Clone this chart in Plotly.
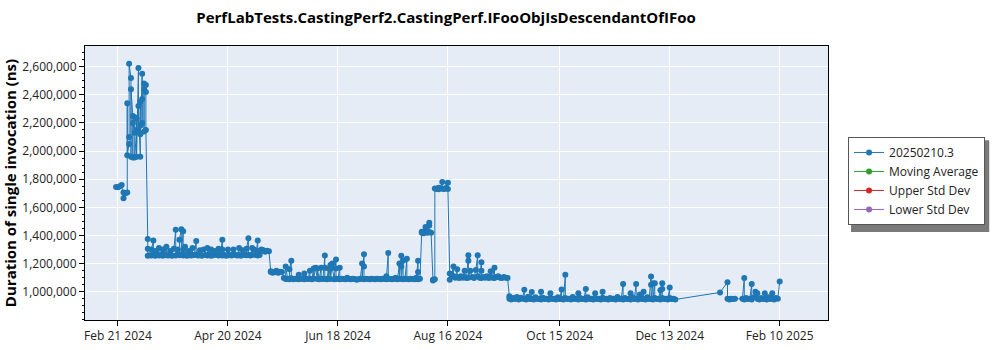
import plotly.graph_objects as go

# ---- data (dates, duration in ns) ----
p1_dates = ["2024-02-20", "2024-02-21", "2024-02-22", "2024-02-23", "2024-02-24", "2024-02-24",
            "2024-02-25", "2024-02-26", "2024-02-26", "2024-02-26", "2024-02-27", "2024-02-27",
            "2024-02-27", "2024-02-28", "2024-02-28", "2024-02-28", "2024-02-29", "2024-02-29",
            "2024-02-29", "2024-03-01", "2024-03-01", "2024-03-01", "2024-03-02", "2024-03-02",
            "2024-03-02", "2024-03-03", "2024-03-03", "2024-03-03", "2024-03-04", "2024-03-04",
            "2024-03-04", "2024-03-04", "2024-03-05", "2024-03-05", "2024-03-05", "2024-03-06",
            "2024-03-06", "2024-03-06", "2024-03-07", "2024-03-07", "2024-03-07"]
p1_vals = [1745000, 1742000, 1750000, 1758000, 1665000, 1705000,
           1700000, 1705000, 2340000, 1970000, 2050000, 2100000,
           2620000, 2520000, 1960000, 2440000, 2250000, 1955000,
           2200000, 2130000, 2240000, 1955000, 2150000, 2230000,
           1960000, 2590000, 2140000, 2320000, 1960000, 2180000,
           2350000, 2120000, 2550000, 2200000, 2370000, 2480000,
           2140000, 2440000, 2420000, 2470000, 2150000]

p2_dates = ["2024-03-08", "2024-03-08", "2024-03-08", "2024-03-09", "2024-03-10", "2024-03-10",
            "2024-03-11", "2024-03-11", "2024-03-12", "2024-03-12", "2024-03-13", "2024-03-14",
            "2024-03-14", "2024-03-15", "2024-03-16", "2024-03-16", "2024-03-17", "2024-03-18",
            "2024-03-18", "2024-03-19", "2024-03-20", "2024-03-20", "2024-03-21", "2024-03-22",
            "2024-03-23", "2024-03-23", "2024-03-24", "2024-03-24", "2024-03-25", "2024-03-25",
            "2024-03-26", "2024-03-26", "2024-03-27", "2024-03-27", "2024-03-27", "2024-03-28",
            "2024-03-28", "2024-03-29", "2024-03-30", "2024-03-30", "2024-03-31", "2024-04-01",
            "2024-04-01", "2024-04-02", "2024-04-03", "2024-04-03", "2024-04-04", "2024-04-05",
            "2024-04-05", "2024-04-06", "2024-04-07", "2024-04-08", "2024-04-09", "2024-04-09",
            "2024-04-10", "2024-04-11", "2024-04-11", "2024-04-12", "2024-04-13", "2024-04-14",
            "2024-04-15", "2024-04-15", "2024-04-16", "2024-04-17", "2024-04-17", "2024-04-17",
            "2024-04-18", "2024-04-19", "2024-04-20", "2024-04-20", "2024-04-21", "2024-04-22",
            "2024-04-23", "2024-04-23", "2024-04-24", "2024-04-25", "2024-04-26", "2024-04-26",
            "2024-04-27", "2024-04-28", "2024-04-29", "2024-04-30", "2024-04-30", "2024-05-01",
            "2024-05-01", "2024-05-02", "2024-05-03", "2024-05-03", "2024-05-04", "2024-05-05",
            "2024-05-06", "2024-05-06", "2024-05-06", "2024-05-07", "2024-05-08", "2024-05-09",
            "2024-05-09", "2024-05-10", "2024-05-11", "2024-05-12"]
p2_vals = [1375000, 1305000, 1255000, 1260000, 1258000, 1300000,
           1365000, 1262000, 1255000, 1290000, 1270000, 1310000,
           1258000, 1262000, 1300000, 1256000, 1265000, 1320000,
           1260000, 1258000, 1290000, 1262000, 1256000, 1305000,
           1440000, 1258000, 1300000, 1262000, 1260000, 1370000,
           1445000, 1265000, 1430000, 1300000, 1258000, 1320000,
           1262000, 1256000, 1290000, 1262000, 1258000, 1310000,
           1260000, 1262000, 1360000, 1265000, 1258000, 1295000,
           1262000, 1256000, 1300000, 1262000, 1258000, 1310000,
           1262000, 1300000, 1256000, 1260000, 1290000, 1262000,
           1258000, 1305000, 1262000, 1370000, 1300000, 1258000,
           1262000, 1256000, 1300000, 1260000, 1262000, 1258000,
           1265000, 1300000, 1262000, 1258000, 1310000, 1262000,
           1256000, 1295000, 1262000, 1260000, 1305000, 1380000,
           1262000, 1258000, 1310000, 1262000, 1300000, 1262000,
           1365000, 1290000, 1258000, 1262000, 1300000, 1290000,
           1295000, 1285000, 1292000, 1288000]

p3_dates = ["2024-05-13", "2024-05-13", "2024-05-14", "2024-05-15", "2024-05-16", "2024-05-16",
            "2024-05-17", "2024-05-18", "2024-05-19", "2024-05-20", "2024-05-21", "2024-05-21",
            "2024-05-22", "2024-05-23", "2024-05-23", "2024-05-24", "2024-05-24", "2024-05-25",
            "2024-05-26", "2024-05-27", "2024-05-28", "2024-05-28", "2024-05-29", "2024-05-30",
            "2024-05-31", "2024-05-31", "2024-06-01", "2024-06-02", "2024-06-03", "2024-06-03",
            "2024-06-04", "2024-06-05", "2024-06-05", "2024-06-06", "2024-06-07", "2024-06-07",
            "2024-06-08", "2024-06-09", "2024-06-09", "2024-06-10", "2024-06-11", "2024-06-11",
            "2024-06-11", "2024-06-12", "2024-06-13", "2024-06-13", "2024-06-14", "2024-06-14",
            "2024-06-15", "2024-06-15", "2024-06-16", "2024-06-17", "2024-06-17", "2024-06-17",
            "2024-06-18", "2024-06-19", "2024-06-19", "2024-06-20", "2024-06-21", "2024-06-22",
            "2024-06-23", "2024-06-23", "2024-06-24", "2024-06-25", "2024-06-26", "2024-06-27",
            "2024-06-28", "2024-06-29", "2024-06-30", "2024-07-01", "2024-07-01", "2024-07-02",
            "2024-07-02", "2024-07-02", "2024-07-03", "2024-07-04", "2024-07-05", "2024-07-06",
            "2024-07-07", "2024-07-08", "2024-07-09", "2024-07-10", "2024-07-11", "2024-07-12",
            "2024-07-13", "2024-07-14", "2024-07-14", "2024-07-15", "2024-07-15", "2024-07-16",
            "2024-07-17", "2024-07-18", "2024-07-19", "2024-07-19", "2024-07-20", "2024-07-21",
            "2024-07-21", "2024-07-22", "2024-07-22", "2024-07-22", "2024-07-23", "2024-07-23",
            "2024-07-24", "2024-07-25", "2024-07-25", "2024-07-26", "2024-07-27", "2024-07-28",
            "2024-07-29", "2024-07-30", "2024-07-30", "2024-07-31", "2024-07-31", "2024-07-31",
            "2024-08-01", "2024-08-02", "2024-08-02", "2024-08-03", "2024-08-04", "2024-08-04",
            "2024-08-05", "2024-08-06", "2024-08-06", "2024-08-06", "2024-08-07", "2024-08-08",
            "2024-08-08", "2024-08-09", "2024-08-09", "2024-08-10", "2024-08-11", "2024-08-11",
            "2024-08-12", "2024-08-13", "2024-08-13", "2024-08-14", "2024-08-15", "2024-08-16",
            "2024-08-16"]
p3_vals = [1145000, 1140000, 1135000, 1140000, 1150000, 1138000,
           1135000, 1142000, 1140000, 1097000, 1090000, 1180000,
           1092000, 1088000, 1160000, 1220000, 1095000, 1088000,
           1092000, 1090000, 1088000, 1120000, 1092000, 1090000,
           1130000, 1088000, 1092000, 1090000, 1150000, 1092000,
           1088000, 1165000, 1092000, 1170000, 1090000, 1165000,
           1088000, 1170000, 1092000, 1090000, 1257000, 1170000,
           1092000, 1088000, 1165000, 1092000, 1190000, 1090000,
           1200000, 1170000, 1088000, 1230000, 1165000, 1092000,
           1090000, 1170000, 1088000, 1092000, 1090000, 1088000,
           1092000, 1100000, 1090000, 1088000, 1092000, 1090000,
           1085000, 1088000, 1092000, 1200000, 1090000, 1267000,
           1180000, 1088000, 1092000, 1090000, 1088000, 1092000,
           1090000, 1088000, 1092000, 1090000, 1088000, 1092000,
           1090000, 1110000, 1088000, 1275000, 1092000, 1090000,
           1088000, 1092000, 1100000, 1090000, 1088000, 1200000,
           1092000, 1255000, 1180000, 1090000, 1220000, 1088000,
           1092000, 1235000, 1090000, 1088000, 1092000, 1090000,
           1088000, 1100000, 1092000, 1220000, 1140000, 1088000,
           1092000, 1427000, 1420000, 1415000, 1430000, 1460000,
           1420000, 1490000, 1470000, 1425000, 1420000, 1085000,
           1080000, 1088000, 1734000, 1730000, 1740000, 1728000,
           1735000, 1780000, 1732000, 1730000, 1738000, 1775000,
           1730000]

p4_dates = ["2024-08-17", "2024-08-17", "2024-08-18", "2024-08-19", "2024-08-19", "2024-08-20",
            "2024-08-21", "2024-08-21", "2024-08-22", "2024-08-23", "2024-08-24", "2024-08-25",
            "2024-08-25", "2024-08-26", "2024-08-27", "2024-08-27", "2024-08-27", "2024-08-28",
            "2024-08-29", "2024-08-30", "2024-08-31", "2024-09-01", "2024-09-01", "2024-09-02",
            "2024-09-03", "2024-09-03", "2024-09-03", "2024-09-04", "2024-09-05", "2024-09-06",
            "2024-09-07", "2024-09-08", "2024-09-08", "2024-09-09", "2024-09-10", "2024-09-10",
            "2024-09-11", "2024-09-12", "2024-09-13", "2024-09-14", "2024-09-15", "2024-09-16",
            "2024-09-17"]
p4_vals = [1130000, 1085000, 1120000, 1180000, 1110000, 1100000,
           1160000, 1105000, 1098000, 1110000, 1100000, 1150000,
           1105000, 1098000, 1260000, 1220000, 1100000, 1150000,
           1105000, 1098000, 1155000, 1260000, 1110000, 1100000,
           1210000, 1150000, 1098000, 1105000, 1100000, 1110000,
           1098000, 1145000, 1105000, 1100000, 1170000, 1098000,
           1105000, 1110000, 1100000, 1098000, 1105000, 1100000,
           1098000]

p5_dates = ["2024-09-18", "2024-09-18", "2024-09-19", "2024-09-20", "2024-09-21", "2024-09-22",
            "2024-09-23", "2024-09-24", "2024-09-25", "2024-09-26", "2024-09-26", "2024-09-27",
            "2024-09-28", "2024-09-29", "2024-09-30", "2024-09-30", "2024-10-01", "2024-10-02",
            "2024-10-03", "2024-10-04", "2024-10-05", "2024-10-05", "2024-10-06", "2024-10-07",
            "2024-10-08", "2024-10-09", "2024-10-10", "2024-10-10", "2024-10-11", "2024-10-12",
            "2024-10-13", "2024-10-14", "2024-10-15", "2024-10-16", "2024-10-16", "2024-10-17",
            "2024-10-18", "2024-10-18", "2024-10-19", "2024-10-20", "2024-10-21", "2024-10-22",
            "2024-10-23", "2024-10-24", "2024-10-25", "2024-10-25", "2024-10-26", "2024-10-27",
            "2024-10-28", "2024-10-29", "2024-10-29", "2024-10-30", "2024-10-31", "2024-11-01",
            "2024-11-02", "2024-11-03", "2024-11-03", "2024-11-04", "2024-11-05", "2024-11-06",
            "2024-11-07", "2024-11-07", "2024-11-08", "2024-11-09", "2024-11-10", "2024-11-11",
            "2024-11-12", "2024-11-13", "2024-11-14", "2024-11-15", "2024-11-16", "2024-11-17",
            "2024-11-18", "2024-11-18", "2024-11-19", "2024-11-20", "2024-11-21", "2024-11-22",
            "2024-11-22", "2024-11-23", "2024-11-24", "2024-11-25", "2024-11-25", "2024-11-26",
            "2024-11-27", "2024-11-27", "2024-11-28", "2024-11-29", "2024-11-29", "2024-11-30",
            "2024-12-01", "2024-12-02", "2024-12-03", "2024-12-03", "2024-12-03", "2024-12-04",
            "2024-12-04", "2024-12-05", "2024-12-05", "2024-12-06", "2024-12-07", "2024-12-08",
            "2024-12-08", "2024-12-09", "2024-12-09", "2024-12-09", "2024-12-10", "2024-12-11",
            "2024-12-12", "2024-12-13", "2024-12-13", "2024-12-14", "2024-12-15", "2024-12-16"]
p5_vals = [967000, 950000, 945000, 955000, 948000, 962000,
           945000, 958000, 950000, 1014000, 950000, 945000,
           965000, 948000, 998000, 950000, 945000, 960000,
           948000, 950000, 1000000, 945000, 958000, 948000,
           950000, 945000, 990000, 955000, 948000, 950000,
           945000, 960000, 948000, 1016000, 950000, 945000,
           1120000, 955000, 948000, 950000, 945000, 962000,
           948000, 950000, 990000, 945000, 955000, 948000,
           950000, 1020000, 945000, 960000, 948000, 950000,
           945000, 990000, 955000, 948000, 950000, 945000,
           1000000, 958000, 948000, 950000, 945000, 955000,
           948000, 950000, 945000, 962000, 948000, 950000,
           1055000, 945000, 955000, 948000, 950000, 990000,
           945000, 960000, 948000, 1055000, 950000, 945000,
           980000, 955000, 948000, 1000000, 950000, 945000,
           960000, 948000, 1108000, 1050000, 950000, 1060000,
           945000, 1060000, 955000, 948000, 950000, 1010000,
           945000, 1060000, 1020000, 955000, 948000, 950000,
           945000, 1030000, 955000, 948000, 950000, 945000]

p6_dates = ["2025-01-09", "2025-01-13", "2025-01-13", "2025-01-14", "2025-01-15", "2025-01-16",
            "2025-01-17", "2025-01-21", "2025-01-22", "2025-01-22", "2025-01-23", "2025-01-24",
            "2025-01-25", "2025-01-26", "2025-01-26", "2025-01-27", "2025-01-28", "2025-01-29",
            "2025-01-29", "2025-01-30", "2025-01-31", "2025-02-01", "2025-02-02", "2025-02-02",
            "2025-02-03", "2025-02-04", "2025-02-05", "2025-02-06", "2025-02-06", "2025-02-07",
            "2025-02-08", "2025-02-09", "2025-02-10"]
p6_vals = [995000, 1068000, 950000, 945000, 950000, 948000,
           950000, 950000, 1097000, 945000, 955000, 948000,
           950000, 1055000, 945000, 960000, 1000000, 990000,
           950000, 945000, 955000, 948000, 990000, 950000,
           945000, 960000, 948000, 990000, 950000, 945000,
           955000, 950000, 1073000]

x_tick_vals = ["2024-02-21", "2024-04-20", "2024-06-18", "2024-08-16",
               "2024-10-15", "2024-12-13", "2025-02-10"]
x_tick_text = ["Feb 21 2024", "Apr 20 2024", "Jun 18 2024", "Aug 16 2024",
               "Oct 15 2024", "Dec 13 2024", "Feb 10 2025"]

series_name = "20250210.3"
legend_names = ["Moving Average", "Upper Std Dev", "Lower Std Dev"]
legend_colors = ["#2ca02c", "#d62728", "#9467bd"]

run_dates = p1_dates + p2_dates + p3_dates + p4_dates + p5_dates + p6_dates
durations = p1_vals + p2_vals + p3_vals + p4_vals + p5_vals + p6_vals

FONT = "Segoe UI, Open Sans, Noto Sans, sans-serif"

fig = go.Figure()
fig.add_trace(go.Scatter(
    x=run_dates, y=durations, mode="lines+markers", name=series_name,
    line=dict(color="#1f77b4", width=1),
    marker=dict(color="#1f77b4", size=6),
))
for nm, col in zip(legend_names, legend_colors):
    fig.add_trace(go.Scatter(
        x=[None], y=[None], mode="lines+markers", name=nm,
        line=dict(color=col, width=1), marker=dict(color=col, size=6),
    ))

# legend drop shadow
fig.add_shape(type="rect", xref="paper", yref="paper",
              x0=1.031, x1=1.217, y0=0.321, y1=0.656,
              fillcolor="#7a7a7a", line=dict(width=0), layer="below")

fig.update_layout(
    width=1000, height=350,
    margin=dict(l=85, r=172, t=46, b=30),
    paper_bgcolor="white",
    plot_bgcolor="#E5ECF6",
    font=dict(family=FONT, size=12, color="#222"),
    title=dict(text="<b>PerfLabTests.CastingPerf2.CastingPerf.IFooObjIsDescendantOfIFoo</b>",
               x=0.486, xref="paper", xanchor="center", y=0.95, yanchor="middle",
               font=dict(family=FONT, size=15, color="black")),
    showlegend=True,
    legend=dict(x=1.027, y=0.668, xanchor="left", yanchor="top",
                bgcolor="white", bordercolor="#555", borderwidth=1,
                entrywidth=100, entrywidthmode="pixels",
                font=dict(family=FONT, size=12, color="#222")),
    xaxis=dict(
        range=["2024-02-03 08:00", "2025-03-07 22:00"],
        tickvals=x_tick_vals, ticktext=x_tick_text,
        automargin=False,
        showgrid=True, gridcolor="white", gridwidth=1,
        showline=True, linecolor="black", linewidth=1, mirror=True,
        ticks="outside", ticklen=5, tickcolor="black",
        tickfont=dict(size=12, color="#222"),
        zeroline=False,
    ),
    yaxis=dict(
        range=[799000, 2747000],
        tickvals=[1000000, 1200000, 1400000, 1600000, 1800000, 2000000,
                  2200000, 2400000, 2600000],
        tickformat=",d",
        automargin=False,
        title=dict(text="<b>Duration of single invocation (ns)</b>",
                   font=dict(family=FONT, size=15, color="black"), standoff=8),
        showgrid=True, gridcolor="white", gridwidth=1,
        showline=True, linecolor="black", linewidth=1, mirror=True,
        ticks="outside", ticklen=5, tickcolor="black",
        minor=dict(dtick=50000, ticks="outside", ticklen=2, tickcolor="black", showgrid=False),
        tickfont=dict(size=12, color="#222"),
        zeroline=False,
    ),
)

fig.write_html("out.html")
